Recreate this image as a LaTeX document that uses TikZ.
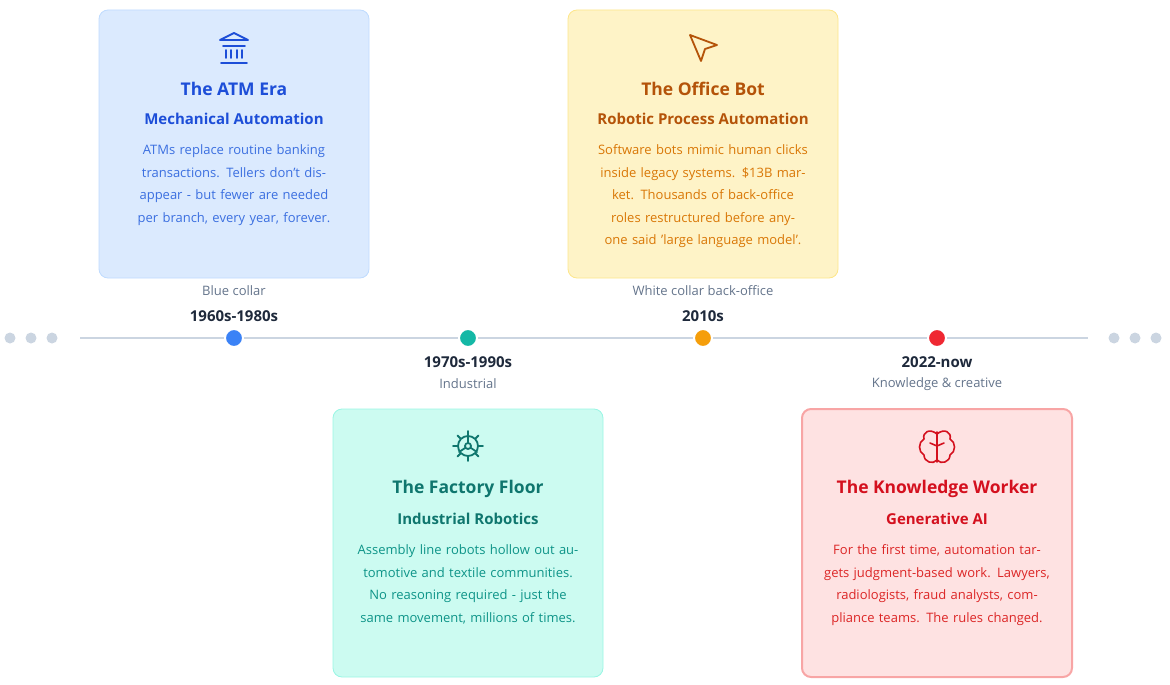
\documentclass[tikz,border=0pt]{standalone}
\usepackage{fontspec}
\setmainfont{Open Sans}
\usetikzlibrary{positioning}
\definecolor{bfill}{HTML}{DBEAFE}\definecolor{bline}{HTML}{BFDBFE}\definecolor{btext}{HTML}{1D4ED8}\definecolor{bbody}{HTML}{3B6FE0}
\definecolor{gfill}{HTML}{CCFBF1}\definecolor{gline}{HTML}{99F6E4}\definecolor{gtext}{HTML}{0F766E}\definecolor{gbody}{HTML}{0D9488}
\definecolor{yfill}{HTML}{FEF3C7}\definecolor{yline}{HTML}{FDE68A}\definecolor{ytext}{HTML}{B45309}\definecolor{ybody}{HTML}{D97706}
\definecolor{rfill}{HTML}{FEE2E2}\definecolor{rline}{HTML}{F8A5A5}\definecolor{rtext}{HTML}{D4101E}\definecolor{rbody}{HTML}{DC2626}
\definecolor{axis}{HTML}{CBD5E1}\definecolor{dim}{HTML}{64748B}\definecolor{dark}{HTML}{1E293B}
\tikzset{
  card/.style={draw, rounded corners=9pt, minimum width=270pt, minimum height=268pt, line width=0.8pt},
  ttl/.style={font=\fontsize{17.5}{20}\selectfont\bfseries},
  sub/.style={font=\fontsize{15}{18}\selectfont\bfseries},
  body/.style={font=\fontsize{13}{22.6}\selectfont, align=center, text width=250pt},
  dot/.style={circle, minimum size=18pt, inner sep=0pt},
  gdot/.style={circle, fill=axis, minimum size=11pt, inner sep=0pt},
  date/.style={font=\fontsize{15}{18}\selectfont\bfseries, text=dark},
  cat/.style={font=\fontsize{13}{16}\selectfont, text=dim},
  icon/.style={line width=1.8pt, line cap=round, line join=round}
}
\begin{document}
\begin{tikzpicture}[x=1pt,y=-1pt]
\useasboundingbox (0,0) rectangle (1170,685);
% axis
\foreach \n/\x in {l1/10,l2/31,l3/52,r1/1114,r2/1135,r3/1156}
  \node[gdot] (\n) at (\x,338) {};
\coordinate (ax1) at (80,338);
\coordinate (ax2) at (1088,338);
\draw[axis, line width=2pt] (ax1) -- (ax2);
\node[dot, fill={rgb,255:red,59;green,130;blue,246}, draw=white, line width=2pt] (d1) at (234,338) {};
\node[dot, fill={rgb,255:red,20;green,184;blue,166}, draw=white, line width=2pt] (d2) at (468,338) {};
\node[dot, fill={rgb,255:red,245;green,158;blue,11}, draw=white, line width=2pt] (d3) at (703,338) {};
\node[dot, fill={rgb,255:red,239;green,40;blue,50}, draw=white, line width=2pt] (d4) at (937,338) {};
% dates
\node[date] (t1) at (234,316) {1960s-1980s};
\node[cat] (c1) at (234,291) {Blue collar};
\node[date] (t3) at (703,316) {2010s};
\node[cat] (c3) at (703,291) {White collar back-office};
\node[date] (t2) at (468,362) {1970s-1990s};
\node[cat] (c2) at (468,384) {Industrial};
\node[date] (t4) at (937,362) {2022-now};
\node[cat] (c4) at (937,384) {Knowledge \& creative};
% cards
\node[card, fill=bfill, draw=bline] (k1) at (234,144) {};
\node[card, fill=yfill, draw=yline] (k3) at (703,144) {};
\node[card, fill=gfill, draw=gline] (k2) at (468,543) {};
\node[card, fill=rfill, draw=rline, line width=2pt] (k4) at (937,543) {};
% ATM
\draw[icon, btext] (220,40) -- (234,33) -- (248,40) -- cycle (223,46) -- (245,46)
  (226,50) -- (226,58) (231,50) -- (231,58) (237,50) -- (237,58) (242,50) -- (242,58) (221,63) -- (247,63);
\node[ttl, text=btext] (h1) at (234,89) {The ATM Era};
\node[sub, text=btext] (s1) at (234,119) {Mechanical Automation};
\node[body, text=bbody, anchor=north] (b1) at (234,141) {ATMs replace routine banking transactions. Tellers don't disappear - but fewer are needed per branch, every year, forever.};
% Office
\draw[icon, ytext] (690,35) -- (717,45) -- (705,49) -- (701,61) -- cycle;
\node[ttl, text=ytext] (h3) at (703,89) {The Office Bot};
\node[sub, text=ytext] (s3) at (703,119) {Robotic Process Automation};
\node[body, text=ybody, anchor=north] (b3) at (703,141) {Software bots mimic human clicks inside legacy systems. \$13B market. Thousands of back-office roles restructured before anyone said 'large language model'.};
% Factory
\draw[icon, gtext] (468,446) circle (10pt) (468,446) circle (3pt) (468,443) -- (468,436) (465,448) -- (459,452) (471,448) -- (477,452);
\foreach \a in {0,45,...,315} \draw[icon, gtext] (468,446) ++(\a:11pt) -- ++(\a:4pt);
\node[ttl, text=gtext] (h2) at (468,489) {The Factory Floor};
\node[sub, text=gtext] (s2) at (468,519) {Industrial Robotics};
\node[body, text=gbody, anchor=north] (b2) at (468,541) {Assembly line robots hollow out automotive and textile communities. No reasoning required - just the same movement, millions of times.};
% Knowledge
\draw[icon, rtext, line width=1.6pt] (937,432) -- (937,462)
  (937,434) .. controls (930,428) and (922,432) .. (924,439) .. controls (918,442) and (918,452) .. (924,455) .. controls (924,462) and (933,465) .. (937,460)
  (937,434) .. controls (944,428) and (952,432) .. (950,439) .. controls (956,442) and (956,452) .. (950,455) .. controls (950,462) and (941,465) .. (937,460)
  (937,446) -- (930,443) (937,446) -- (944,443);
\node[ttl, text=rtext] (h4) at (937,489) {The Knowledge Worker};
\node[sub, text=rtext] (s4) at (937,519) {Generative AI};
\node[body, text=rbody, anchor=north] (b4) at (937,541) {For the first time, automation targets judgment-based work. Lawyers, radiologists, fraud analysts, compliance teams. The rules changed.};
\end{tikzpicture}
\end{document}
